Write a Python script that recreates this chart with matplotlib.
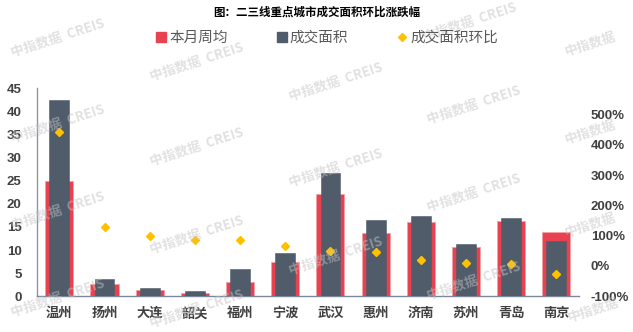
import matplotlib.pyplot as plt
import numpy as np
from matplotlib.lines import Line2D
from matplotlib.ticker import FuncFormatter

plt.rcParams['font.family'] = ['Liberation Sans', 'Noto Sans CJK SC', 'DejaVu Sans']

cities = ['温州', '扬州', '大连', '韶关', '福州', '宁波', '武汉', '惠州', '济南', '苏州', '青岛', '南京']
weekly_avg = [25.0, 2.7, 1.3, 0.65, 3.1, 7.35, 22.1, 13.8, 16.0, 10.7, 16.4, 14.0]
deal_area = [42.4, 3.75, 1.8, 1.1, 5.85, 9.3, 26.6, 16.6, 17.4, 11.3, 16.9, 11.9]
mom_pct = [441, 129, 100, 86, 86, 67, 50, 46, 19, 11, 8, -25]

red = '#E8414F'
dark = '#505C69'
gold = '#FFC000'
txt = '#404040'
cjk = ['Noto Sans CJK SC', 'DejaVu Sans']

fig = plt.figure(figsize=(6.33, 3.32), dpi=100)
ax = fig.add_axes([0.058, 0.1075, 0.8567, 0.6265])
ax2 = ax.twinx()
ax.set_zorder(ax2.get_zorder() - 1)
ax.patch.set_visible(False)

x = np.arange(len(cities))
ax.bar(x, weekly_avg, width=0.62, color=red, edgecolor='#F3A0A7', linewidth=0.6, zorder=2)
ax.bar(x, deal_area, width=0.44, color=dark, edgecolor=dark, linewidth=0.4, zorder=3)
ax2.plot(x, mom_pct, linestyle='none', marker='D', markersize=4.2, color=gold, zorder=4)

ax.set_xlim(-0.5, len(cities) - 0.5)
ax.set_ylim(0, 45)
ax.set_yticks(range(0, 46, 5))
ax2.set_ylim(-100, 586)
ax2.set_yticks(range(-100, 501, 100))
ax2.yaxis.set_major_formatter(FuncFormatter(lambda v, p: f'{int(v)}%'))

ax.set_xticks(x)
ax.set_xticklabels(cities, fontsize=9.5, fontweight='bold', color=txt)
ax.tick_params(axis='x', length=0, pad=8)
ax.tick_params(axis='y', length=0, pad=11, labelsize=9.5, labelcolor=txt)
ax2.tick_params(axis='y', length=0, pad=8.5, labelsize=9.5, labelcolor=txt)
for lab in ax.get_yticklabels() + ax2.get_yticklabels():
    lab.set_fontweight('bold')

for a in (ax, ax2):
    for s in ('top', 'right'):
        a.spines[s].set_visible(False)
ax2.spines['left'].set_visible(False)
ax2.spines['bottom'].set_visible(False)
ax.spines['left'].set_color('#8A96A8')
ax.spines['bottom'].set_color('#7A8699')
ax.spines['left'].set_linewidth(1.0)
ax.spines['bottom'].set_linewidth(1.0)

fig.text(0.5, 1 - 12 / 332, '图：二三线重点城市成交面积环比涨跌幅', ha='center', va='center',
         fontsize=8.3, fontweight='bold', color='black', family=cjk)

handles = [
    Line2D([], [], linestyle='none', marker='s', markersize=7.5, color=red),
    Line2D([], [], linestyle='none', marker='s', markersize=7.5, color=dark),
    Line2D([], [], linestyle='none', marker='D', markersize=4, color=gold),
]
leg = fig.legend(handles, ['本月周均', '成交面积', '成交面积环比'], loc='center',
                 bbox_to_anchor=(0.515, 1 - 38 / 332), ncol=3, frameon=False,
                 handletextpad=0.05, columnspacing=3.2, handlelength=1.0,
                 prop={'family': cjk, 'size': 10.5})
for t in leg.get_texts():
    t.set_color('#595959')

# watermark grid
marks = [(58, 38), (58, 124), (58, 211), (58, 298),
         (197, 62), (197, 147), (197, 235), (197, 309),
         (336, 82), (336, 168), (336, 256),
         (470, 22), (474, 105), (474, 193), (474, 281)]
for mx, my in marks:
    fig.text(mx / 633, 1 - my / 332, '中指数据  CREIS', ha='center', va='center', rotation=18,
             fontsize=9.5, fontweight='bold', color='#C4C4C4', alpha=0.5, zorder=4, family=cjk)
for mx, my in [(590, 44), (590, 132), (590, 225), (593, 310)]:
    fig.text(mx / 633, 1 - my / 332, '中指数据', ha='center', va='center', rotation=18,
             fontsize=9.5, fontweight='bold', color='#C4C4C4', alpha=0.5, zorder=4, family=cjk)

fig.savefig('out.png', dpi=100)
